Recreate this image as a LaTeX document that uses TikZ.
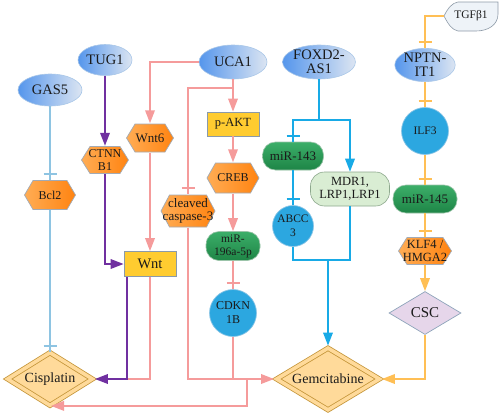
\documentclass[tikz,border=0pt]{standalone}
\usepackage{fontspec}
\setmainfont{Liberation Serif}
\usetikzlibrary{arrows.meta,shapes.geometric,decorations.markings}
\definecolor{pinkl}{HTML}{F59B9B}
\definecolor{purp}{HTML}{7030A0}
\definecolor{lblue}{HTML}{8EC4E2}
\definecolor{cyanb}{HTML}{18AAE6}
\definecolor{orl}{HTML}{FFBF55}
\definecolor{elldark}{HTML}{5596EC}
\definecolor{elllight}{HTML}{DCE5F2}
\definecolor{ellborder}{HTML}{A9C7E8}
\definecolor{hexlight}{HTML}{FFAD55}
\definecolor{hexdark}{HTML}{FF8310}
\definecolor{hexborder}{HTML}{A2AAB5}
\definecolor{goldf}{HTML}{FFCC30}
\definecolor{goldborder}{HTML}{8A9AAA}
\definecolor{gtop}{HTML}{3CAE69}
\definecolor{gbot}{HTML}{1E8546}
\definecolor{gborder}{HTML}{9BC4A9}
\definecolor{circfill}{HTML}{2CA7E0}
\definecolor{circborder}{HTML}{8CC6E6}
\definecolor{mdrfill}{HTML}{D9EDD3}
\definecolor{mdrborder}{HTML}{8DA88D}
\definecolor{cscfill}{HTML}{E6D6EA}
\definecolor{cscborder}{HTML}{8EA4BA}
\definecolor{drugfill}{HTML}{FFDA9A}
\definecolor{drugborder}{HTML}{C5963A}
\definecolor{tgffill}{HTML}{EEF3F8}
\definecolor{tgfborder}{HTML}{8E9BA8}
\definecolor{txt}{HTML}{1A1A1A}
\newcommand\myfs[1]{\fontsize{#1}{#1}\selectfont}
\tikzset{
  ell/.style={ellipse, draw=ellborder, line width=0.6pt, left color=elldark, right color=elllight,
    inner sep=0pt, align=center, text=txt, font=\myfs{14.5}},
  hex/.style={rectangle, inner sep=0pt, align=center, text=txt, font=\myfs{12.5},
    path picture={
      \path[left color=hexlight, right color=hexdark, draw=hexborder, line width=0.7pt]
       ([xshift=9pt,yshift=-0.5pt]path picture bounding box.north west) --
       ([xshift=-9pt,yshift=-0.5pt]path picture bounding box.north east) --
       ([xshift=-0.5pt]path picture bounding box.east) --
       ([xshift=-9pt,yshift=0.5pt]path picture bounding box.south east) --
       ([xshift=9pt,yshift=0.5pt]path picture bounding box.south west) --
       ([xshift=0.5pt]path picture bounding box.west) -- cycle;}},
  goldbox/.style={rectangle, fill=goldf, draw=goldborder, line width=0.7pt, inner sep=0pt,
    text=txt, font=\myfs{13}},
  greenbox/.style={rectangle, rounded corners=13pt, top color=gtop, bottom color=gbot,
    draw=gborder, line width=0.6pt, inner sep=0pt, align=center, text=txt, font=\myfs{13}},
  circ/.style={circle, fill=circfill, draw=circborder, line width=0.7pt, inner sep=0pt,
    align=center, text=txt, font=\myfs{12}},
  mdrbox/.style={rectangle, rounded corners=14pt, fill=mdrfill, draw=mdrborder, line width=0.6pt,
    inner sep=0pt, align=center, text=txt, font=\myfs{12.5}},
  cscbox/.style={diamond, aspect=1.7, fill=cscfill, draw=cscborder, line width=0.7pt,
    inner sep=0pt, text=txt, font=\myfs{15}},
  drug/.style={diamond, aspect=1.65, fill=drugfill, draw=drugborder, line width=0.8pt,
    double=drugfill, double distance=3.6pt, inner sep=0pt, text=txt, font=\myfs{14}},
  ln/.style={line width=1.8pt},
  act/.style={-{Triangle[length=13pt,width=9.5pt]}},
  inh/.style={postaction={decorate, decoration={markings,
      mark=at position -6pt with {\draw[line width=1.8pt,#1] (0pt,-6.5pt) -- (0pt,6.5pt);}}}}
}
\begin{document}
\begin{tikzpicture}[x=1pt,y=-1pt]
\useasboundingbox (0,0) rectangle (500,415);
% ellipses
\node[ell, minimum width=64pt, minimum height=32pt] (gas5) at (50,90) {GAS5};
\node[ell, minimum width=54pt, minimum height=31pt] (tug1) at (105,60) {TUG1};
\node[ell, minimum width=68pt, minimum height=34pt] (uca1) at (233,62) {UCA1};
\node[ell, minimum width=72pt, minimum height=34pt, font=\fontsize{14.5}{14}\selectfont] (foxd2) at (319,62) {FOXD2-\\AS1};
\node[ell, minimum width=56pt, minimum height=30pt, font=\fontsize{14.5}{14}\selectfont] (nptn) at (425,65) {NPTN-\\IT1};
% TGFb1
\draw[tgfborder, fill=tgffill, line width=0.6pt] (444,16) .. controls (448,8) and (452,3) .. (458,2) -- (498,2) -- (498,14) .. controls (498,25) and (488,31) .. (476,31) -- (458,31) .. controls (452,30) and (448,24) .. (444,16) -- cycle;
\node[text=txt, font=\myfs{11.5}, inner sep=0pt] (tgf) at (471,16) {TGFβ1};
\coordinate (tgfw) at (444,16);
% hexagons
\node[hex, minimum width=52pt, minimum height=30pt, font=\myfs{12}] (bcl2) at (50,195) {Bcl2};
\node[hex, minimum width=48pt, minimum height=28pt, font=\fontsize{12}{12.5}\selectfont] (ctnnb1) at (105,160) {CTNN\\B1};
\node[hex, minimum width=48pt, minimum height=29pt, font=\myfs{13}] (wnt6) at (150,138) {Wnt6};
\node[hex, minimum width=53pt, minimum height=31pt, font=\myfs{12}] (creb) at (233,178) {CREB};
\node[hex, minimum width=55pt, minimum height=33pt, font=\fontsize{13}{13}\selectfont] (casp) at (188,211) {cleaved\\caspase-3};
\node[hex, minimum width=54pt, minimum height=28pt, font=\fontsize{12.5}{12.5}\selectfont] (klf4) at (425,251) {KLF4 /\\HMGA2};
% gold boxes
\node[goldbox, minimum width=52pt, minimum height=25pt, font=\myfs{14.5}] (wnt) at (150,264) {Wnt};
\node[goldbox, minimum width=52pt, minimum height=24pt, font=\myfs{12.5}] (pakt) at (233,124) {p-AKT};
% green boxes
\node[greenbox, minimum width=54pt, minimum height=29pt, font=\fontsize{11.5}{13}\selectfont] (mir196) at (233,246) {miR-\\196a-5p};
\node[greenbox, minimum width=61pt, minimum height=28pt] (mir143) at (293,156) {miR-143};
\node[greenbox, minimum width=64pt, minimum height=28pt] (mir145) at (425,199) {miR-145};
\node[mdrbox, minimum width=79pt, minimum height=34pt, font=\fontsize{12.5}{13.5}\selectfont] (mdr) at (350,189) {MDR1,\\LRP1,LRP1};
% circles
\node[circ, minimum size=47pt, font=\fontsize{12}{14}\selectfont] (cdkn) at (233,313) {CDKN\\1B};
\node[circ, minimum size=41pt, font=\fontsize{11.5}{14}\selectfont] (abcc) at (293,226) {ABCC\\3};
\node[circ, minimum size=47pt, font=\myfs{11.5}] (ilf3) at (425,131) {ILF3};
% diamonds
\node[cscbox, minimum width=72pt, minimum height=43pt] (csc) at (425,313) {CSC};
\node[drug, minimum width=85pt, minimum height=53pt] (cis) at (50,379) {Cisplatin};
\node[drug, minimum width=103pt, minimum height=62pt] (gem) at (328,379) {Gemcitabine};
% junction coordinates
\coordinate (jw) at (127,379);
\coordinate (ub) at (233,88);
\coordinate (cj) at (233,379);
\coordinate (pj) at (247,379);
\coordinate (fl) at (293,120);
\coordinate (fb) at (319,120);
\coordinate (bj) at (328,260);
% light blue
\draw[ln, line width=1.5pt, lblue, inh=lblue] (gas5) -- (bcl2);
\draw[ln, line width=1.5pt, lblue, inh=lblue] (bcl2) -- (cis);
% purple
\draw[ln, purp, act] (tug1) -- (ctnnb1);
\draw[ln, purp, act] (ctnnb1.south) |- (wnt.west);
\draw[ln, pinkl] (wnt.south) |- (jw);
\draw[ln, purp, act, shorten >=2pt] ([xshift=-23pt]wnt.south) |- (cis.east);
% pink
\draw[ln, pinkl, act] (uca1.west) -| (wnt6.north);
\draw[ln, pinkl, act] (wnt6) -- (wnt);
\draw[ln, pinkl, act] (uca1) -- (pakt);
\draw[ln, pinkl, inh=pinkl] (ub) -| (casp.north);
\draw[ln, pinkl, act, shorten >=2pt] (casp.south) |- (gem.west);
\draw[ln, pinkl, act] (pakt) -- (creb);
\draw[ln, pinkl, act] (creb) -- (mir196);
\draw[ln, pinkl, inh=pinkl] (mir196) -- (cdkn);
\draw[ln, pinkl] (cdkn.south) -- (cj);
\draw[ln, pinkl, act, shorten >=1pt] (pj) |- (cis.south);
% blue
\draw[ln, cyanb, inh=cyanb] (foxd2.south) |- (fl) -- (mir143.north);
\draw[ln, cyanb, act] (fb) -| (mdr.north);
\draw[ln, cyanb, inh=cyanb] (mir143) -- (abcc);
\draw[ln, cyanb] (abcc.south) |- (bj) -| (mdr.south);
\draw[ln, cyanb, act, shorten >=2pt] (bj) -- (gem.north);
% orange
\draw[ln, orl, inh=orl] (tgfw) -| (nptn.north);
\draw[ln, orl, inh=orl] (nptn) -- (ilf3);
\draw[ln, orl, inh=orl] (ilf3) -- (mir145);
\draw[ln, orl, inh=orl] (mir145) -- (klf4);
\draw[ln, orl, act] (klf4) -- (csc);
\draw[ln, orl, act, shorten >=2pt] (csc.south) |- (gem.east);
\end{tikzpicture}
\end{document}
